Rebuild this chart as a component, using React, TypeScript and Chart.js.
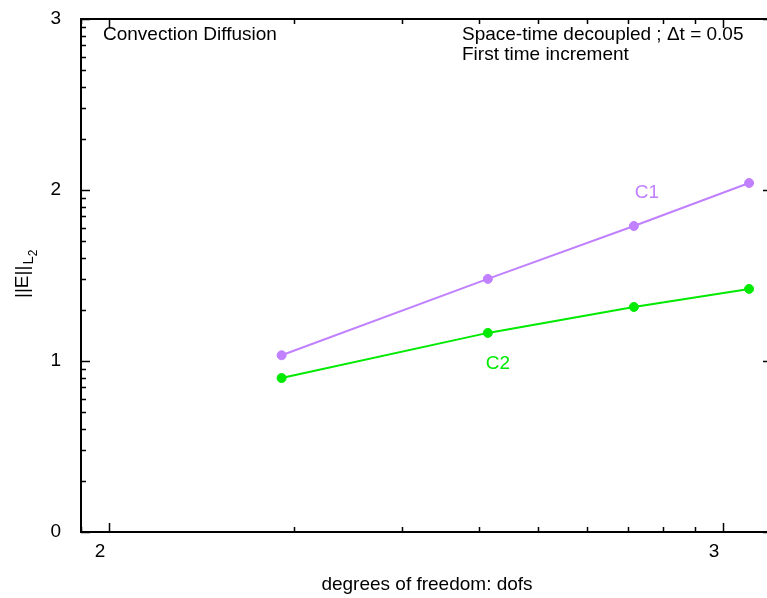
import React, { useEffect, useRef } from "react";
import { Chart, registerables } from "chart.js";

Chart.register(...registerables);

// ---- data (log-log plot; axis labels are exponents) ----
const dofs = [191, 414, 716, 1103];
const errorC1 = [10.8, 30.2, 61.6, 109.9];
const errorC2 = [7.95, 14.6, 20.7, 26.4];
const seriesNames = ["C1", "C2"];
const seriesColors = ["#c080ff", "#00ea00"];
const seriesLabelAt = [
  { x: 752, y: 96 },
  { x: 430, y: 9.6 },
];
const xMajorTicks = [100, 1000];
const yMajorTicks = [1, 10, 100, 1000];
const xRange = { min: 90, max: 1202 };
const yRange = { min: 1, max: 1000 };
const titleLeft = "Convection Diffusion";
const titleRight = ["Space-time decoupled ; \u0394t = 0.05", "First time increment"];
const xTitle = "degrees of freedom: dofs";

const FONT = "Liberation Sans, Arial, sans-serif";
const FS = 19;

const framePlugin = {
  id: "gnuFrame",
  afterDraw(chart: any) {
    const { ctx, chartArea: a, scales } = chart;
    const xs = scales.x;
    const ys = scales.y;
    ctx.save();
    ctx.strokeStyle = "#000";
    ctx.lineWidth = 2;
    ctx.beginPath();
    ctx.rect(a.left, a.top, a.right - a.left, a.bottom - a.top);
    ctx.stroke();

    ctx.lineWidth = 1.5;
    const major = 9;
    const minor = 5;
    // x ticks (bottom and top)
    for (let d = 1; d <= 3; d++) {
      for (let k = 1; k <= 9; k++) {
        const v = k * Math.pow(10, d);
        if (v < xs.min || v > xs.max) continue;
        const px = Math.round(xs.getPixelForValue(v)) + 0.5;
        const len = k === 1 ? major : minor;
        ctx.beginPath();
        ctx.moveTo(px, a.bottom);
        ctx.lineTo(px, a.bottom - len);
        ctx.moveTo(px, a.top);
        ctx.lineTo(px, a.top + len);
        ctx.stroke();
      }
    }
    // y ticks (left and right)
    for (let d = 0; d <= 3; d++) {
      for (let k = 1; k <= 9; k++) {
        const v = k * Math.pow(10, d);
        if (v < ys.min || v > ys.max) continue;
        const py = Math.round(ys.getPixelForValue(v)) + 0.5;
        const len = k === 1 ? major : minor;
        ctx.beginPath();
        ctx.moveTo(a.left, py);
        ctx.lineTo(a.left + len, py);
        ctx.moveTo(a.right, py);
        ctx.lineTo(a.right - len, py);
        ctx.stroke();
      }
    }

    // texts
    ctx.fillStyle = "#000";
    ctx.font = `${FS}px ${FONT}`;
    ctx.textBaseline = "middle";
    ctx.textAlign = "left";
    ctx.fillText(titleLeft, 103, 35);
    ctx.fillText(titleRight[0], 462, 35);
    ctx.fillText(titleRight[1], 462, 55);

    ctx.textAlign = "center";
    ctx.fillText(xTitle, 427, 585);

    // series labels
    seriesNames.forEach((name, i) => {
      ctx.fillStyle = seriesColors[i];
      ctx.fillText(
        name,
        xs.getPixelForValue(seriesLabelAt[i].x),
        ys.getPixelForValue(seriesLabelAt[i].y)
      );
    });

    // y title ||E||_{L_2}
    ctx.fillStyle = "#000";
    ctx.translate(28, 298);
    ctx.rotate(-Math.PI / 2);
    ctx.textAlign = "left";
    ctx.textBaseline = "alphabetic";
    ctx.font = `${FS}px ${FONT}`;
    const main = "||E||";
    ctx.fillText(main, 0, 0);
    let w = ctx.measureText(main).width;
    ctx.font = `15px ${FONT}`;
    ctx.fillText("L", w + 1, 5);
    w += 1 + ctx.measureText("L").width;
    ctx.font = `12px ${FONT}`;
    ctx.fillText("2", w, 9);
    ctx.restore();
  },
};

const zeroPad = (s: any) => {
  s.paddingTop = 0;
  s.paddingBottom = 0;
  s.paddingLeft = 0;
  s.paddingRight = 0;
};

export default function App() {
  const ref = useRef<HTMLCanvasElement | null>(null);
  useEffect(() => {
    document.body.style.margin = "0";
    const canvas = ref.current!;
    const makeData = (ys: number[]) => dofs.map((x, i) => ({ x, y: ys[i] }));
    const chart = new Chart(canvas, {
      type: "line",
      data: {
        datasets: [errorC1, errorC2].map((vals, i) => ({
          label: seriesNames[i],
          data: makeData(vals),
          borderColor: seriesColors[i],
          backgroundColor: seriesColors[i],
          borderWidth: 2,
          pointRadius: 4.5,
          pointBorderWidth: 1,
          pointBorderColor: seriesColors[i],
          pointBackgroundColor: seriesColors[i],
          tension: 0,
          fill: false,
        })),
      },
      options: {
        responsive: false,
        animation: false,
        devicePixelRatio: 1,
        layout: { autoPadding: false, padding: { top: 19, right: 0, left: 0, bottom: 0 } },
        plugins: { legend: { display: false }, tooltip: { enabled: false } },
        scales: {
          x: {
            type: "logarithmic",
            min: xRange.min,
            max: xRange.max,
            grid: { display: false, drawTicks: false },
            border: { display: false },
            afterBuildTicks: (s: any) => {
              s.ticks = xMajorTicks.map((v) => ({ value: v }));
            },
            afterFit: (s: any) => {
              s.height = 66;
              zeroPad(s);
            },
            ticks: {
              autoSkip: false,
              maxRotation: 0,
              padding: 8,
              labelOffset: -9,
              color: "#000",
              font: { family: FONT, size: FS },
              callback: (v: any) => String(Math.round(Math.log10(Number(v)))),
            },
          },
          y: {
            type: "logarithmic",
            min: yRange.min,
            max: yRange.max,
            grid: { display: false, drawTicks: false },
            border: { display: false },
            afterBuildTicks: (s: any) => {
              s.ticks = yMajorTicks.map((v) => ({ value: v }));
            },
            afterFit: (s: any) => {
              s.width = 81;
              zeroPad(s);
            },
            ticks: {
              autoSkip: false,
              padding: 20,
              color: "#000",
              font: { family: FONT, size: FS },
              callback: (v: any) => String(Math.round(Math.log10(Number(v)))),
            },
          },
        },
      },
      plugins: [framePlugin],
    });
    return () => chart.destroy();
  }, []);
  return (
    <div style={{ width: 767, height: 598, overflow: "hidden", position: "relative" }}>
      <div style={{ width: 772, height: 598 }}>
        <canvas
          ref={ref}
          width={772}
          height={598}
          style={{ display: "block", width: 772, height: 598 }}
        />
      </div>
    </div>
  );
}
